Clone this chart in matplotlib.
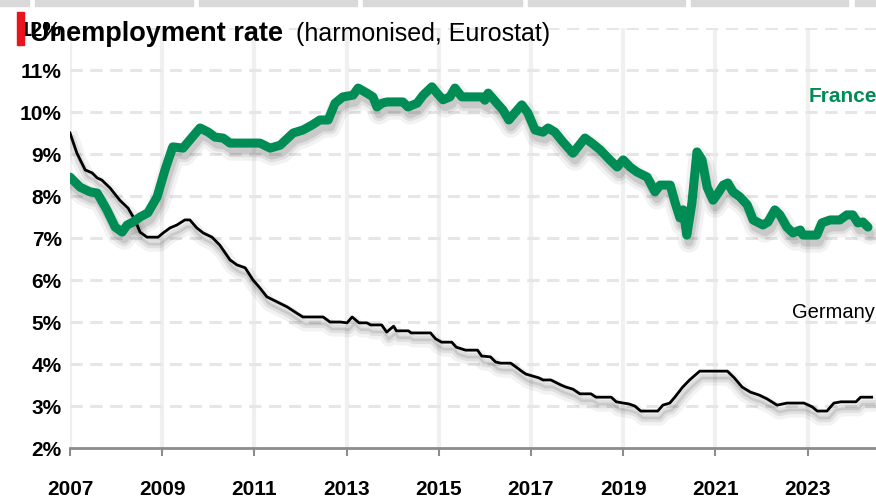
import matplotlib
matplotlib.use("Agg")
import matplotlib.pyplot as plt
import matplotlib.patheffects as pe
from matplotlib.patches import Rectangle

# France, harmonised unemployment rate (%), decimal years
fr_year = [2007.00, 2007.22, 2007.43, 2007.59, 2007.80, 2007.98, 2008.13, 2008.24, 2008.37, 2008.52,
           2008.69, 2008.89, 2009.06, 2009.23, 2009.45, 2009.65, 2009.82, 2010.00, 2010.15, 2010.32,
           2010.47, 2011.12, 2011.34, 2011.56, 2011.84, 2012.05, 2012.25, 2012.42, 2012.60, 2012.75,
           2012.92, 2013.14, 2013.25, 2013.44, 2013.57, 2013.66, 2013.77, 2013.88, 2014.22, 2014.33,
           2014.53, 2014.66, 2014.85, 2014.96, 2015.09, 2015.24, 2015.35, 2015.50, 2015.94, 2016.00,
           2016.07, 2016.26, 2016.39, 2016.52, 2016.65, 2016.80, 2016.93, 2017.09, 2017.26, 2017.37,
           2017.52, 2017.69, 2017.91, 2018.17, 2018.32, 2018.50, 2018.71, 2018.87, 2019.00, 2019.15,
           2019.30, 2019.52, 2019.69, 2019.80, 2020.02, 2020.12, 2020.23, 2020.30, 2020.38, 2020.49,
           2020.60, 2020.71, 2020.82, 2020.95, 2021.06, 2021.17, 2021.27, 2021.38, 2021.53, 2021.69,
           2021.82, 2022.03, 2022.14, 2022.29, 2022.40, 2022.55, 2022.68, 2022.84, 2022.90, 2023.20,
           2023.31, 2023.49, 2023.70, 2023.85, 2023.98, 2024.09, 2024.20, 2024.31]
fr_rate = [8.45, 8.21, 8.10, 8.07, 7.67, 7.26, 7.14, 7.31, 7.38, 7.50,
           7.60, 7.98, 8.62, 9.17, 9.14, 9.40, 9.62, 9.52, 9.40, 9.38,
           9.26, 9.26, 9.14, 9.21, 9.50, 9.57, 9.69, 9.81, 9.81, 10.21,
           10.36, 10.40, 10.57, 10.45, 10.36, 10.12, 10.21, 10.24, 10.24, 10.12,
           10.21, 10.40, 10.60, 10.45, 10.29, 10.36, 10.57, 10.36, 10.36, 10.28,
           10.45, 10.21, 10.05, 9.81, 9.98, 10.17, 9.98, 9.57, 9.52, 9.62,
           9.52, 9.29, 9.02, 9.38, 9.26, 9.10, 8.86, 8.69, 8.86, 8.69,
           8.57, 8.45, 8.10, 8.26, 8.26, 7.86, 7.48, 7.67, 7.07, 7.83,
           9.05, 8.86, 8.21, 7.90, 8.07, 8.26, 8.31, 8.10, 7.98, 7.79,
           7.43, 7.31, 7.38, 7.67, 7.55, 7.26, 7.12, 7.19, 7.07, 7.07,
           7.36, 7.43, 7.43, 7.55, 7.55, 7.36, 7.38, 7.26]

# Germany
de_year = [2007.00, 2007.15, 2007.33, 2007.48, 2007.59, 2007.69, 2007.87, 2008.08, 2008.26, 2008.41,
           2008.52, 2008.67, 2008.91, 2009.02, 2009.17, 2009.32, 2009.49, 2009.60, 2009.75, 2009.89,
           2010.08, 2010.25, 2010.47, 2010.62, 2010.80, 2010.97, 2011.12, 2011.27, 2011.49, 2011.71,
           2011.92, 2012.05, 2012.49, 2012.64, 2012.86, 2013.01, 2013.12, 2013.27, 2013.44, 2013.52,
           2013.76, 2013.87, 2014.02, 2014.08, 2014.34, 2014.40, 2014.82, 2014.93, 2015.06, 2015.28,
           2015.38, 2015.58, 2015.84, 2015.93, 2016.12, 2016.23, 2016.34, 2016.56, 2016.71, 2016.82,
           2016.89, 2017.17, 2017.26, 2017.43, 2017.65, 2017.76, 2017.91, 2018.06, 2018.30, 2018.41,
           2018.74, 2018.85, 2019.00, 2019.12, 2019.25, 2019.38, 2019.75, 2019.86, 2020.01, 2020.12,
           2020.29, 2020.44, 2020.66, 2021.26, 2021.41, 2021.58, 2021.76, 2021.95, 2022.12, 2022.34,
           2022.55, 2022.92, 2023.10, 2023.21, 2023.42, 2023.57, 2023.72, 2024.05, 2024.15, 2024.39]
de_rate = [9.50, 9.02, 8.62, 8.55, 8.43, 8.38, 8.19, 7.90, 7.71, 7.43,
           7.14, 7.02, 7.02, 7.12, 7.24, 7.31, 7.43, 7.43, 7.24, 7.12,
           7.02, 6.83, 6.48, 6.36, 6.29, 6.00, 5.81, 5.60, 5.48, 5.36,
           5.21, 5.12, 5.12, 5.00, 5.00, 4.98, 5.12, 4.98, 4.98, 4.93,
           4.93, 4.76, 4.90, 4.79, 4.79, 4.74, 4.74, 4.60, 4.52, 4.52,
           4.40, 4.33, 4.33, 4.19, 4.17, 4.05, 4.02, 4.02, 3.90, 3.81,
           3.76, 3.67, 3.62, 3.62, 3.50, 3.45, 3.40, 3.29, 3.29, 3.21,
           3.21, 3.10, 3.07, 3.05, 3.00, 2.88, 2.88, 3.02, 3.07, 3.21,
           3.45, 3.62, 3.83, 3.83, 3.67, 3.45, 3.33, 3.26, 3.17, 3.02,
           3.07, 3.07, 2.98, 2.88, 2.88, 3.07, 3.10, 3.10, 3.21, 3.21]

year_ticks = list(range(2007, 2024, 2))
pct_ticks = list(range(2, 13))

GREEN = "#008c55"
FONT = ["Liberation Sans", "DejaVu Sans"]


def shadow(lw):
    return [
        pe.SimpleLineShadow(offset=(1.5, -5), shadow_color="#000000", alpha=0.05, linewidth=lw + 9),
        pe.SimpleLineShadow(offset=(1.5, -5), shadow_color="#000000", alpha=0.07, linewidth=lw + 4),
        pe.SimpleLineShadow(offset=(1.5, -5), shadow_color="#000000", alpha=0.10, linewidth=lw),
        pe.Normal(),
    ]


fig = plt.figure(figsize=(8.76, 5.0), dpi=100)
ax = fig.add_axes([70 / 876, 52 / 500, 806 / 876, 420 / 500])

ax.set_xlim(2007, 2007 + 806 / 46.1)
ax.set_ylim(2, 12)

for y in pct_ticks[1:]:
    ax.axhline(y, color="#e6e6e6", lw=2.2, dashes=(4, 2.5), zorder=1)
for x in year_ticks:
    ax.axvline(x, color="#f0f0f0", lw=3, zorder=0.5)

ax.plot(de_year, de_rate, color="black", lw=2.0, zorder=3, path_effects=shadow(2.0),
        solid_joinstyle="round")
ax.plot(fr_year, fr_rate, color=GREEN, lw=6.5, zorder=4, path_effects=shadow(6.5),
        solid_capstyle="round", solid_joinstyle="round")

for s in ["top", "right", "left"]:
    ax.spines[s].set_visible(False)
ax.spines["bottom"].set_color("#8c8c8c")
ax.spines["bottom"].set_linewidth(2)
ax.spines["bottom"].set_zorder(5)

ax.set_xticks(year_ticks)
ax.set_xticklabels([str(y) for y in year_ticks])
ax.set_yticks(pct_ticks)
ax.set_yticklabels([f"{p}%" for p in pct_ticks])
ax.tick_params(axis="x", length=6, width=1.5, color="#8c8c8c", pad=17)
ax.tick_params(axis="y", length=0, pad=6)
for lab in ax.get_xticklabels() + ax.get_yticklabels():
    lab.set_fontfamily(FONT)
    lab.set_fontweight("bold")
    lab.set_fontsize(15)

ax.text(2024.5, 10.36, "France", color=GREEN, fontsize=15, fontweight="bold",
        family=FONT, ha="right", va="center", clip_on=False)
ax.text(2024.45, 5.22, "Germany", color="black", fontsize=14.5,
        family=FONT, ha="right", va="center", clip_on=False)

# title
fig.text(30 / 876, 1 - 34 / 500, "Unemployment rate", fontsize=19.5, fontweight="bold",
         family=FONT, ha="left", va="center")
fig.text(296 / 876, 1 - 34 / 500, "(harmonised, Eurostat)", fontsize=18,
         family=FONT, ha="left", va="center")
fig.patches.append(Rectangle((17 / 876, 1 - 45 / 500), 7 / 876, 33 / 500,
                             transform=fig.transFigure, color="#e8141e", zorder=6))

# grey header strip
for x0, x1 in [(0, 29), (35, 193), (199, 357), (363, 522), (528, 685), (691, 848), (855, 876)]:
    fig.patches.append(Rectangle((x0 / 876, 1 - 6 / 500), (x1 - x0) / 876, 6 / 500,
                                 transform=fig.transFigure, color="#d9d9d9", zorder=6))

fig.savefig("out.png", dpi=100)
